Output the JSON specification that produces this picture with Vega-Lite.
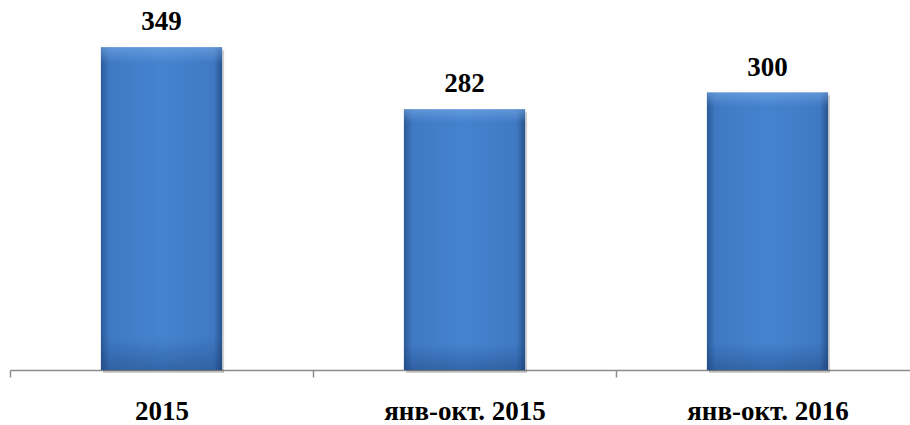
{
  "$schema": "https://vega.github.io/schema/vega-lite/v6.json",
  "width": 909,
  "height": 370,
  "autosize": {"type": "none"},
  "padding": {"left": 10, "top": 0, "right": 0, "bottom": 55},
  "background": "white",
  "config": {"view": {"stroke": null}},
  "data": {"values": [
    {"period": "2015", "value": 349},
    {"period": "янв-окт. 2015", "value": 282},
    {"period": "янв-окт. 2016", "value": 300}
  ]},
  "encoding": {
    "x": {"field": "period", "type": "nominal", "sort": null,
      "scale": {"paddingInner": 0, "paddingOuter": 0},
      "axis": {"title": null, "labelAngle": 0, "labelFont": "Times New Roman, Liberation Serif, serif", "labelFontSize": 27, "labelFontWeight": "bold", "labelColor": "black",
        "labelBaseline": "alphabetic", "labelPadding": 42, "tickBand": "extent", "tickSize": 7, "tickColor": "#8c8c8c", "domainColor": "#8c8c8c", "domainWidth": 1.5, "tickWidth": 1.5}},
    "y": {"field": "value", "type": "quantitative", "scale": {"domain": [0, 400]}, "axis": null}
  },
  "layer": [
    {"mark": {"type": "bar", "width": {"band": 0.4}, "xOffset": 2, "yOffset": 3, "color": "#000000", "opacity": 0.18}},
    {"mark": {"type": "bar", "width": {"band": 0.4},
      "color": {"gradient": "linear", "x1": 0, "x2": 1, "y1": 0, "y2": 0,
        "stops": [
          {"offset": 0, "color": "#2b5a98"},
          {"offset": 0.07, "color": "#3f79c3"},
          {"offset": 0.5, "color": "#4583cf"},
          {"offset": 0.93, "color": "#3f79c3"},
          {"offset": 1, "color": "#28548e"}
        ]}}},
    {"mark": {"type": "bar", "width": {"band": 0.4},
      "color": {"gradient": "linear", "x1": 0, "x2": 0, "y1": 0, "y2": 1,
        "stops": [
          {"offset": 0, "color": "rgba(120,170,230,0.6)"},
          {"offset": 0.05, "color": "rgba(120,170,230,0.0)"},
          {"offset": 0.9, "color": "rgba(20,50,100,0.0)"},
          {"offset": 1, "color": "rgba(20,50,100,0.35)"}
        ]}}},
    {"mark": {"type": "text", "baseline": "alphabetic", "dy": -17, "font": "Times New Roman, Liberation Serif, serif", "fontSize": 27, "fontWeight": "bold", "color": "black"},
      "encoding": {"text": {"field": "value", "type": "quantitative"}}}
  ]
}
